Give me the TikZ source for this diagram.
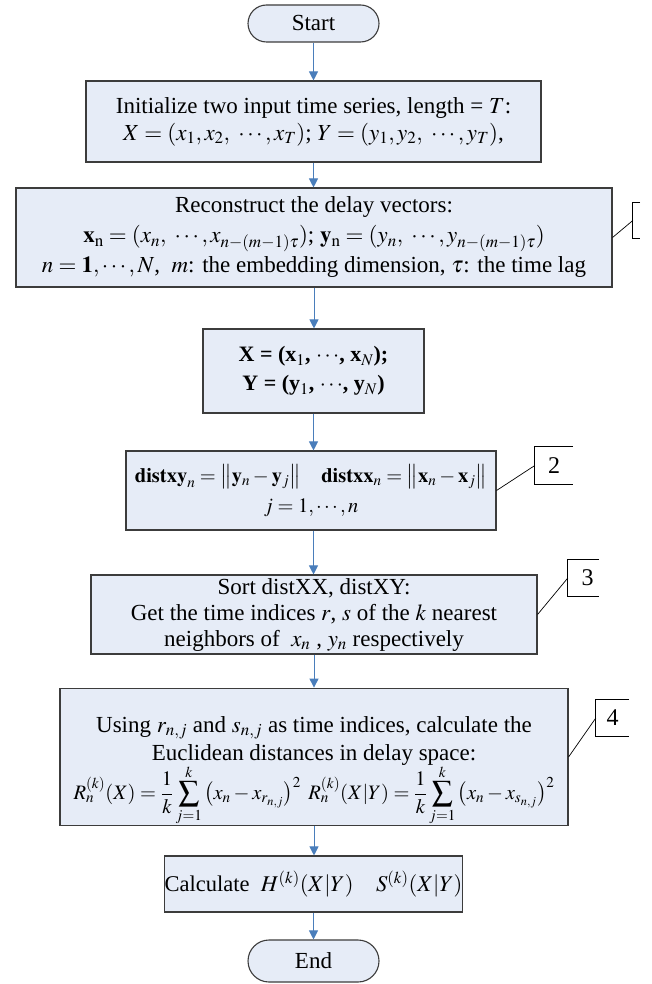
\documentclass[tikz,border=0pt]{standalone}
\usepackage{mathptmx}
\usepackage[no-math]{fontspec}
\setmainfont{Liberation Serif}
\usetikzlibrary{arrows.meta,shapes.misc}
\definecolor{boxfill}{RGB}{230,236,247}
\definecolor{boxline}{RGB}{60,60,60}
\definecolor{arrowblue}{RGB}{74,126,187}
\begin{document}
\begin{tikzpicture}[x=1pt,y=-1pt,
  box/.style={draw=boxline, line width=1.1pt, fill=boxfill, align=center, inner sep=0pt,
              font=\fontsize{23}{27}\selectfont},
  term/.style={box, rounded rectangle},
  flow/.style={arrowblue, line width=1pt, -{Triangle[width=9pt,length=9pt]}},
  callout/.style={black, line width=0.7pt},
  tagbox/.style={inner sep=0pt, font=\fontsize{24}{26}\selectfont}
]
\clip (0,0) rectangle (651,984);

\node[term, minimum width=131pt, minimum height=37pt] (start) at (313.5,23.5) {Start};

\node[box, minimum width=455pt, minimum height=81pt] (b1) at (313.5,121.5)
  {Initialize two input time series, length = $T$:\\
   $X=(x_1, x_2,\ \cdots, x_T)$; $Y=(y_1, y_2,\ \cdots, y_T)$,};

\node[box, minimum width=596pt, minimum height=99pt, font=\fontsize{23}{30}\selectfont] (b2) at (314,237.5)
  {Reconstruct the delay vectors:\\
   $\mathbf{x}_{\mathrm{n}} = (x_n,\ \cdots, x_{n-(m-1)\tau})$; $\mathbf{y}_{\mathrm{n}} = (y_n,\ \cdots, y_{n-(m-1)\tau})$\\
   $n = \mathbf{1}, \cdots, N$,\ \ $m$: the embedding dimension, $\tau$: the time lag};

\node[box, minimum width=221pt, minimum height=84pt, font=\fontsize{22}{29}\selectfont] (b3) at (313.5,371)
  {\bfseries X = (x$_1$, $\cdots$, x$_N$);\\
   \bfseries Y = (y$_1$, $\cdots$, y$_N$)};

\node[box, minimum width=370pt, minimum height=79pt, font=\fontsize{20.5}{30}\selectfont] (b4) at (311,490.5)
  {$\mathbf{distxy}_n = \left\|\mathbf{y}_n - \mathbf{y}_j\right\|$\quad
   $\mathbf{distxx}_n = \left\|\mathbf{x}_n - \mathbf{x}_j\right\|$\\
   $j = 1, \cdots, n$};

\node[box, minimum width=446pt, minimum height=79pt, font=\fontsize{23}{26}\selectfont] (b5) at (314,614.5)
  {Sort distXX, distXY:\\
   Get the time indices $r$, $s$ of the $k$ nearest\\
   neighbors of \ $x_n$ , $y_n$ respectively};

\node[box, minimum width=508pt, minimum height=122pt, font=\fontsize{23}{28}\selectfont] (b6) at (314,757)
  {\rule{0pt}{44pt}Using $r_{n,j}$ and $s_{n,j}$ as time indices, calculate the\\
   Euclidean distances in delay space:\\[-1pt]
   {\fontsize{20.5}{24}\selectfont
   $\displaystyle R_n^{(k)}(X)=\frac{1}{k}\sum_{j=1}^{k}\left(x_n-x_{r_{n,j}}\right)^2\
    R_n^{(k)}(X|Y)=\frac{1}{k}\sum_{j=1}^{k}\left(x_n-x_{s_{n,j}}\right)^2$}};

\node[box, minimum width=291pt, minimum height=56pt, font=\fontsize{22.5}{27}\selectfont] (b7) at (313.5,884)
  {Calculate \ $H^{(k)}(X|Y)$\quad $S^{(k)}(X|Y)$};

\node[term, minimum width=131pt, minimum height=42pt] (end) at (313.5,961) {End};

% flow arrows
\draw[flow] (start.south) -- (start.south |- b1.north);
\draw[flow] (b1.south) -- (b1.south |- b2.north);
\draw[flow] (b2.south) -- (b2.south |- b3.north);
\draw[flow] (b3.south) -- (b3.south |- b4.north);
\draw[flow] (b3.south |- b4.south) -- (b3.south |- b5.north);
\draw[flow] (b5.south) -- (b5.south |- b6.north);
\draw[flow] (b6.south) -- (b6.south |- b7.north);
\draw[flow] (b7.south) -- (b7.south |- end.north);

% annotation brackets
\node[tagbox, minimum width=7pt, minimum height=35pt] (l1) at (636.5,220.5) {};
\node[tagbox, minimum width=38pt, minimum height=37pt] (l2) at (554,465.5) {2};
\node[tagbox, minimum width=31pt, minimum height=36pt] (l3) at (583.5,578) {\hspace*{8pt}3};
\node[tagbox, minimum width=33pt, minimum height=36pt] (l4) at (612.5,718) {4};
\foreach \l in {l1,l2,l3,l4}
  \draw[callout] (\l.north east) -- (\l.north west) -- (\l.south west) -- (\l.south east);

\draw[callout] (b2.east) -- (l1.west);
\draw[callout] (b4.east) -- (l2.west);
\draw[callout] (b5.east) -- (l3.west);
\draw[callout] (b6.east) -- (l4.west);
\end{tikzpicture}
\end{document}
